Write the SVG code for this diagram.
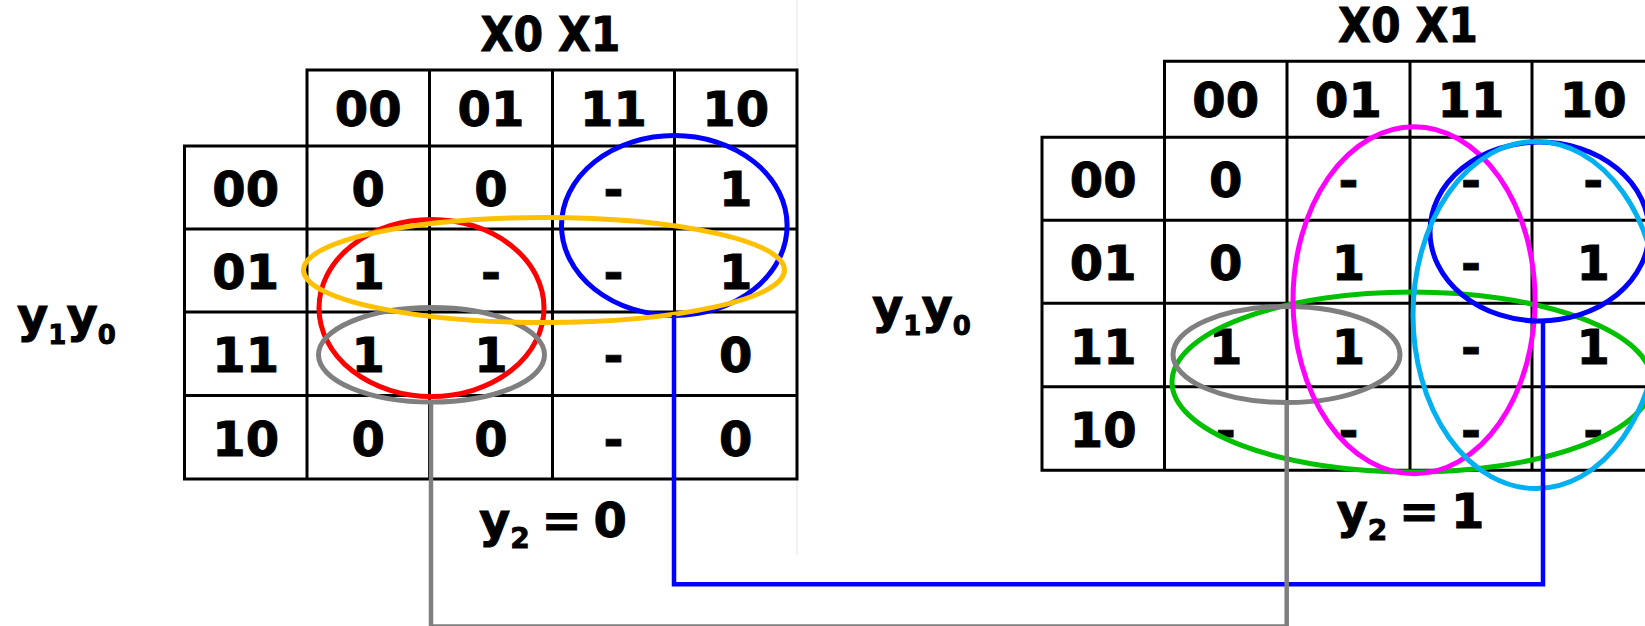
<svg xmlns="http://www.w3.org/2000/svg" xmlns:xlink="http://www.w3.org/1999/xlink" width="1645" height="626" viewBox="0 0 1645 626">
<style>
.t{font-family:"DejaVu Sans","Liberation Sans",sans-serif;font-weight:bold;font-size:48px;fill:#000;stroke:#000;stroke-width:0.9;text-anchor:middle}
.l{font-family:"DejaVu Sans","Liberation Sans",sans-serif;font-weight:bold;font-size:48px;fill:#000;stroke:#000;stroke-width:0.9}
.grid{fill:none;stroke:#000;stroke-width:3;stroke-linecap:square}
.loop{fill:none;stroke-width:5}
.conn{fill:none;stroke-width:4.5;stroke-linejoin:miter}
</style>
<defs>
<path id="grid" class="grid" d="M307,70 H797 M184.5,146 H797 M184.5,229 H797 M184.5,312 H797 M184.5,395.5 H797 M184.5,479 H797 M184.5,146 V479 M307,70 V479 M429.5,70 V479 M552.5,70 V479 M674.5,70 V479 M797,70 V479"/>
</defs>
<rect width="1645" height="626" fill="#fff"/>
<path d="M797,0 V70 M797,479 V555" stroke="#ededf7" stroke-width="1.5" fill="none"/>

<g id="kmap-y2-0">
<use xlink:href="#grid"/>
<text class="t" x="550.5" y="51.3" textLength="140" lengthAdjust="spacingAndGlyphs">X0 X1</text>
<g class="t">
<text x="368.25" y="126">00</text><text x="491" y="126">01</text><text x="613.5" y="126">11</text><text x="735.75" y="126">10</text>
<text x="245.75" y="206">00</text><text x="368.25" y="206">0</text><text x="491" y="206">0</text><text x="613.5" y="206">-</text><text x="735.75" y="206">1</text>
<text x="245.75" y="289">01</text><text x="368.25" y="289">1</text><text x="491" y="289">-</text><text x="613.5" y="289">-</text><text x="735.75" y="289">1</text>
<text x="245.75" y="372.3">11</text><text x="368.25" y="372.3">1</text><text x="491" y="372.3">1</text><text x="613.5" y="372.3">-</text><text x="735.75" y="372.3">0</text>
<text x="245.75" y="455.7">10</text><text x="368.25" y="455.7">0</text><text x="491" y="455.7">0</text><text x="613.5" y="455.7">-</text><text x="735.75" y="455.7">0</text>
</g>
<text class="l" x="17" y="331.5">y<tspan font-size="26" dy="12">1</tspan><tspan dy="-12">y</tspan><tspan font-size="26" dy="12">0</tspan></text>
<text class="l" x="479" y="536.7" word-spacing="-5">y<tspan font-size="28" dy="11.3">2</tspan><tspan dy="-11.3"> = 0</tspan></text>
</g>

<g id="kmap-y2-1">
<use xlink:href="#grid" transform="translate(857.5,-8.7)"/>
<text class="t" x="1408" y="42.3" textLength="140" lengthAdjust="spacingAndGlyphs">X0 X1</text>
<g class="t" transform="translate(857.5,-8.7)">
<text x="368.25" y="126">00</text><text x="491" y="126">01</text><text x="613.5" y="126">11</text><text x="735.75" y="126">10</text>
<text x="245.75" y="206">00</text><text x="368.25" y="206">0</text><text x="491" y="206">-</text><text x="613.5" y="206">-</text><text x="735.75" y="206">-</text>
<text x="245.75" y="289">01</text><text x="368.25" y="289">0</text><text x="491" y="289">1</text><text x="613.5" y="289">-</text><text x="735.75" y="289">1</text>
<text x="245.75" y="372.3">11</text><text x="368.25" y="372.3">1</text><text x="491" y="372.3">1</text><text x="613.5" y="372.3">-</text><text x="735.75" y="372.3">1</text>
<text x="245.75" y="455.7">10</text><text x="368.25" y="455.7">-</text><text x="491" y="455.7">-</text><text x="613.5" y="455.7">-</text><text x="735.75" y="455.7">-</text>
</g>
<text class="l" x="872" y="323">y<tspan font-size="26" dy="12">1</tspan><tspan dy="-12">y</tspan><tspan font-size="26" dy="12">0</tspan></text>
<text class="l" x="1336.5" y="528.3" word-spacing="-5">y<tspan font-size="28" dy="11.3">2</tspan><tspan dy="-11.3"> = 1</tspan></text>
</g>

<g id="loops">
<ellipse id="loop-blue-0" class="loop" stroke="#0000ff" cx="674.3" cy="225.5" rx="112.8" ry="90"/>
<ellipse id="loop-red-0" class="loop" stroke="#ff0000" cx="431.5" cy="308" rx="112.5" ry="88.5"/>
<ellipse id="loop-gray-0" class="loop" stroke="#7f7f7f" cx="431.5" cy="354.8" rx="113" ry="47.3"/>
<ellipse id="loop-orange-0" class="loop" stroke="#ffc000" cx="544" cy="270" rx="240.5" ry="52.5"/>
<ellipse id="loop-green-1" class="loop" stroke="#00c000" cx="1412" cy="382" rx="240" ry="90"/>
<ellipse id="loop-gray-1" class="loop" stroke="#7f7f7f" cx="1286.5" cy="354.5" rx="113.5" ry="48"/>
<ellipse id="loop-magenta-1" class="loop" stroke="#ff00ff" cx="1414" cy="300.3" rx="121" ry="173.5"/>
<ellipse id="loop-blue-1" class="loop" stroke="#0000ff" cx="1539.5" cy="231.5" rx="109.5" ry="89.5"/>
<ellipse id="loop-cyan-1" class="loop" stroke="#00b0f0" cx="1536" cy="315" rx="123" ry="173.5"/>
</g>

<g id="connectors">
<path class="conn" stroke="#0000ff" stroke-width="5" d="M674,315 V584.3 H1543 V321"/>
<path class="conn" stroke="#7f7f7f" d="M431,402 V626.5 H1286.7 V402.5"/>
</g>
</svg>
